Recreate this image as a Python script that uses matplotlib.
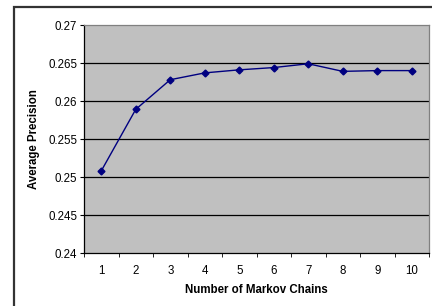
import numpy as np
import matplotlib.pyplot as plt
from matplotlib.patches import Rectangle

plt.rcParams["font.family"] = ["Liberation Sans", "DejaVu Sans"]

chains = [1, 2, 3, 4, 5, 6, 7, 8, 9, 10]
avg_precision = [0.2508, 0.2589, 0.2628, 0.2637, 0.2641, 0.2644, 0.2649, 0.2639, 0.2640, 0.2640]
y_ticks = [0.24, 0.245, 0.25, 0.255, 0.26, 0.265, 0.27]
y_labels = ["0.24", "0.245", "0.25", "0.255", "0.26", "0.265", "0.27"]

fig = plt.figure(figsize=(4.32, 3.06), dpi=100)
fig.patch.set_facecolor("white")

# outer chart frame (runs off the right and bottom edges)
fig.patches.append(Rectangle((14 / 432, -0.1), 1.2, 1.1 - 7 / 306,
                             transform=fig.transFigure, fill=False,
                             edgecolor="#333333", linewidth=1.6))

ax = fig.add_axes([84 / 432, 53 / 306, 345 / 432, 228 / 306])
ax.set_facecolor("#C0C0C0")

ax.plot(chains, avg_precision, color="#000080", linewidth=1.0,
        marker="D", markersize=3.5, markerfacecolor="#000080",
        markeredgecolor="#000080")

ax.set_xlim(0.5, 10.5)
ax.set_ylim(0.24, 0.27)
ax.set_yticks(y_ticks)
ax.set_yticklabels(y_labels)
ax.set_xticks(chains)
ax.set_xticks(np.arange(0.5, 11, 1.0), minor=True)
ax.tick_params(axis="x", which="major", length=0, labelsize=8.3, pad=9)
ax.tick_params(axis="x", which="minor", length=3, direction="out", color="black")
ax.tick_params(axis="y", length=3, direction="out", labelsize=8.3, pad=2)

for y in y_ticks[1:-1]:
    ax.axhline(y, color="black", linewidth=0.9, zorder=1)

for side in ["left", "bottom"]:
    ax.spines[side].set_color("black")
    ax.spines[side].set_linewidth(0.9)
for side in ["top", "right"]:
    ax.spines[side].set_color("#808080")
    ax.spines[side].set_linewidth(0.9)

ax.set_xlabel("Number of Markov Chains", fontsize=8.3, fontweight="bold", labelpad=5)
ax.set_ylabel("Average Precision", fontsize=8.3, fontweight="bold", labelpad=6)

fig.savefig("out.png", dpi=100)
